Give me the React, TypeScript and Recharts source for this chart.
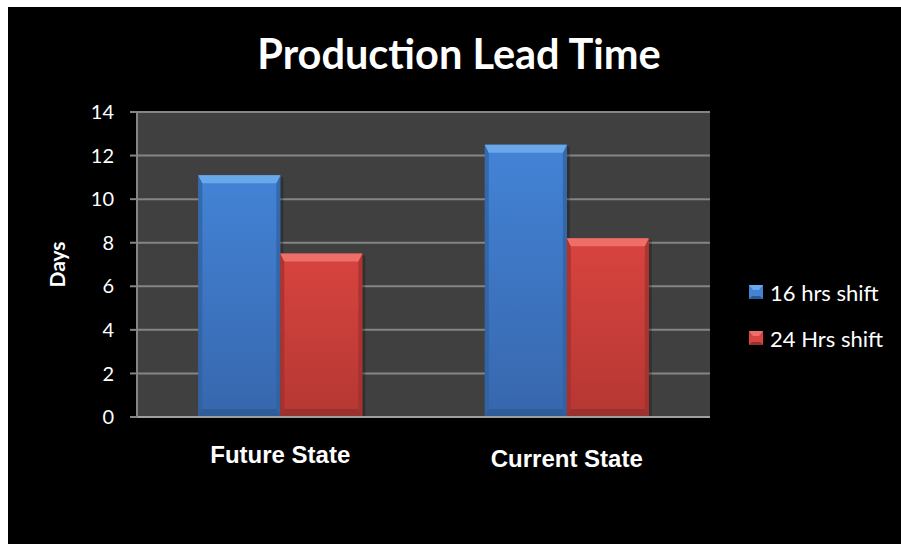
import { BarChart, Bar, XAxis, YAxis, CartesianGrid, Legend } from 'recharts';

const categories = ['Future State', 'Current State'];
const shift16 = [11.1, 12.5];
const shift24 = [7.5, 8.2];
const yTicks = [0, 2, 4, 6, 8, 10, 12, 14];

const data = categories.map((name, i) => ({ name, s16: shift16[i], s24: shift24[i] }));

const BLUE = { top: '#6aa8ec', main1: '#4383d6', main2: '#3767ad', side: '#2f5f9e', bottom: '#2d5a94' };
const RED = { top: '#ee6e6a', main1: '#d8443f', main2: '#b53733', side: '#9e2f2c', bottom: '#93302d' };

const CALIBRI = 'Lato, Carlito, Calibri, sans-serif';
const ARIAL = '"Liberation Sans", Arial, sans-serif';

function BevelBar(props: any) {
    const { x, y, width: w, height: h, pal, id } = props;
    if (!h || h <= 0) return null;
    const b = Math.min(8, h / 2);
    const s = 4;
    return (
        <g>
            <defs>
                <linearGradient id={id} x1="0" y1="0" x2="0" y2="1">
                    <stop offset="0%" stopColor={pal.main1} />
                    <stop offset="100%" stopColor={pal.main2} />
                </linearGradient>
            </defs>
            <rect x={x + 3} y={y + 2} width={w} height={h - 2} fill="#000" opacity={0.25} />
            <rect x={x} y={y} width={w} height={h} fill={`url(#${id})`} />
            <polygon points={`${x},${y} ${x + s},${y + b} ${x + s},${y + h - b} ${x},${y + h}`} fill={pal.side} opacity={0.7} />
            <polygon points={`${x + w},${y} ${x + w - s},${y + b} ${x + w - s},${y + h - b} ${x + w},${y + h}`} fill={pal.side} opacity={0.7} />
            <polygon points={`${x},${y} ${x + w},${y} ${x + w - s},${y + b} ${x + s},${y + b}`} fill={pal.top} />
            <polygon points={`${x},${y + h} ${x + w},${y + h} ${x + w - s},${y + h - b} ${x + s},${y + h - b}`} fill={pal.bottom} opacity={0.8} />
        </g>
    );
}

const labelOffsets = [46, 50];

function CategoryTick(props: any) {
    const { x, y, payload, index } = props;
    return (
        <text x={x} y={y + labelOffsets[index]} textAnchor="middle" fill="#fff" fontFamily={ARIAL} fontWeight="bold" fontSize={24}>
            {payload.value}
        </text>
    );
}

function DaysLabel(props: any) {
    const { viewBox } = props;
    const cx = viewBox.x + 48;
    const cy = viewBox.y + viewBox.height / 2;
    return (
        <text x={cx} y={cy} transform={`rotate(-90, ${cx}, ${cy})`} textAnchor="middle" dominantBaseline="central"
            fill="#fff" fontFamily={CALIBRI} fontWeight="bold" fontSize={21}>
            Days
        </text>
    );
}

const legendItems = [
    { label: '16 hrs shift', pal: BLUE },
    { label: '24 Hrs shift', pal: RED },
];

function LegendContent() {
    return (
        <div style={{ fontFamily: CALIBRI, fontSize: 22, color: '#fff' }}>
            {legendItems.map((it) => (
                <div key={it.label} style={{ display: 'flex', alignItems: 'center', height: 46 }}>
                    <svg width={14} height={14} style={{ marginRight: 7 }}>
                        <rect x={0} y={0} width={14} height={14} fill={it.pal.main1} />
                        <polygon points="0,0 14,0 10,5 4,5" fill={it.pal.top} />
                        <polygon points="0,14 14,14 11,11 3,11" fill={it.pal.bottom} />
                    </svg>
                    <span>{it.label}</span>
                </div>
            ))}
        </div>
    );
}

export default function App() {
    return (
        <div style={{ position: 'fixed', left: 8, top: 7, width: 893, height: 537, background: '#000' }}>
            <div style={{
                position: 'absolute', left: 0, width: 902, top: 26, textAlign: 'center', lineHeight: 1,
                color: '#fff', fontFamily: CALIBRI, fontWeight: 'bold', fontSize: 41.5,
            }}>
                Production Lead Time
            </div>
            <BarChart width={893} height={537} data={data} margin={{ top: 105, right: 191, bottom: 67, left: 0 }}
                barCategoryGap="21.4%" barGap={0}>
                <CartesianGrid vertical={false} fill="#404040" stroke="#858585" strokeWidth={2} />
                <XAxis dataKey="name" tickLine={false} tickSize={0} tickMargin={0} height={60}
                    axisLine={{ stroke: '#a0a0a0', strokeWidth: 2 }} tick={<CategoryTick />} interval={0} />
                <YAxis width={129} domain={[0, 14]} ticks={yTicks} interval={0} tickSize={7} tickMargin={16}
                    axisLine={{ stroke: '#858585', strokeWidth: 2 }} tickLine={{ stroke: '#858585', strokeWidth: 2 }}
                    tick={{ fill: '#fff', fontFamily: CALIBRI, fontSize: 20 }} label={<DaysLabel />} />
                <Legend layout="horizontal" align="center" verticalAlign="middle" content={<LegendContent />}
                    wrapperStyle={{ position: 'absolute', left: 741, top: 262, width: 152 }} />
                <Bar dataKey="s16" name="16 hrs shift" isAnimationActive={false}
                    shape={(p: any) => <BevelBar {...p} pal={BLUE} id="gBlue" />} />
                <Bar dataKey="s24" name="24 Hrs shift" isAnimationActive={false}
                    shape={(p: any) => <BevelBar {...p} pal={RED} id="gRed" />} />
            </BarChart>
        </div>
    );
}
